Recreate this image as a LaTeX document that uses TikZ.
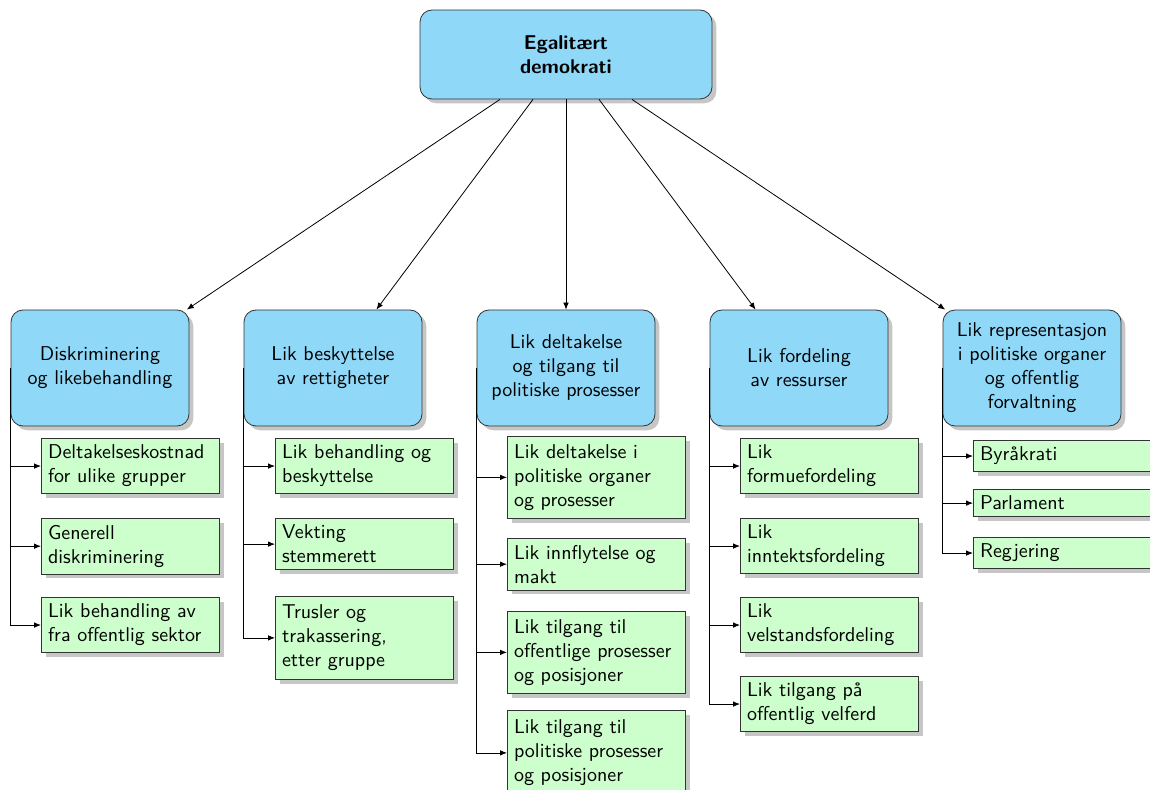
\documentclass[tikz,border=0pt]{standalone}
\usepackage{fontspec}
\usetikzlibrary{arrows.meta,shadows,calc}

\definecolor{topblue}{RGB}{143,216,248}
\definecolor{leafgreen}{RGB}{204,255,204}

\tikzset{
  headbox/.style={draw=black!80, thin, fill=topblue, rounded corners=6pt,
    drop shadow={opacity=0.45}, font=\sffamily, align=center},
  rootbox/.style={headbox, minimum width=146pt, minimum height=44.5pt,
    font=\sffamily\bfseries},
  catbox/.style={headbox, minimum width=89pt, minimum height=58pt},
  leafbox/.style={draw=black!80, thin, fill=leafgreen, drop shadow={opacity=0.45},
    font=\sffamily, text width=82.5pt, align=left, anchor=north west},
  tallleaf/.style={leafbox, minimum height=41pt},
  link/.style={thin, -{Latex[length=3.5pt,width=2.8pt]}},
}

\begin{document}
\begin{tikzpicture}[x=0.5pt, y=-0.5pt]
  \useasboundingbox (0,0) rectangle (1150,790);
  \clip (0,0) rectangle (1150,790);

  % root
  \node[rootbox] (root) at (566,54.5) {Egalitært\\demokrati};

  % categories
  \node[catbox] (d1) at (100,368)  {Diskriminering\\og likebehandling};
  \node[catbox] (d2) at (333,368)  {Lik beskyttelse\\av rettigheter};
  \node[catbox] (d3) at (566,368)  {Lik deltakelse\\og tilgang til\\politiske prosesser};
  \node[catbox] (d4) at (799,368)  {Lik fordeling\\av ressurser};
  \node[catbox] (d5) at (1032,368) {Lik representasjon\\i politiske organer\\og offentlig\\forvaltning};

  % start points on the root's lower edge
  \coordinate (r1) at ($(root.south)+(-66,0)$);
  \coordinate (r2) at ($(root.south)+(-33,0)$);
  \coordinate (r3) at (root.south);
  \coordinate (r4) at ($(root.south)+(33,0)$);
  \coordinate (r5) at ($(root.south)+(66,0)$);

  \foreach \i in {1,...,5} \draw[link] (r\i) -- (d\i);

  % leaves, column 1
  \node[leafbox] (c11) at (41,438) {Deltakelseskostnad\\for ulike grupper};
  \node[leafbox] (c12) at (41,518) {Generell\\diskriminering};
  \node[leafbox] (c13) at (41,597) {Lik behandling av\\fra offentlig sektor};

  % column 2
  \node[leafbox] (c21) at (275,438) {Lik behandling og\\beskyttelse};
  \node[leafbox] (c22) at (275,518) {Vekting\\stemmerett};
  \node[tallleaf, minimum height=41.5pt] (c23) at (275,596) {Trusler og\\trakassering,\\etter gruppe};

  % column 3
  \node[tallleaf] (c31) at (507,436) {Lik deltakelse i\\politiske organer\\og prosesser};
  \node[leafbox] (c32) at (507,538) {Lik innflytelse og\\makt};
  \node[tallleaf] (c33) at (507,611) {Lik tilgang til\\offentlige prosesser\\og posisjoner};
  \node[tallleaf, minimum height=42.5pt] (c34) at (507,710) {Lik tilgang til\\politiske prosesser\\og posisjoner};

  % column 4
  \node[leafbox] (c41) at (740,438) {Lik\\formuefordeling};
  \node[leafbox] (c42) at (740,518) {Lik\\inntektsfordeling};
  \node[leafbox] (c43) at (740,597) {Lik\\velstandsfordeling};
  \node[leafbox] (c44) at (740,676) {Lik tilgang på\\offentlig velferd};

  % column 5
  \node[leafbox] (c51) at (973,440) {Byråkrati};
  \node[leafbox] (c52) at (973,489) {Parlament};
  \node[leafbox] (c53) at (973,537) {Regjering};

  % branch connectors
  \foreach \p/\n in {1/3, 2/3, 3/4, 4/4, 5/3}
    \foreach \k in {1,...,\n}
      \draw[link] (d\p.west) |- (c\p\k.west);
\end{tikzpicture}
\end{document}
